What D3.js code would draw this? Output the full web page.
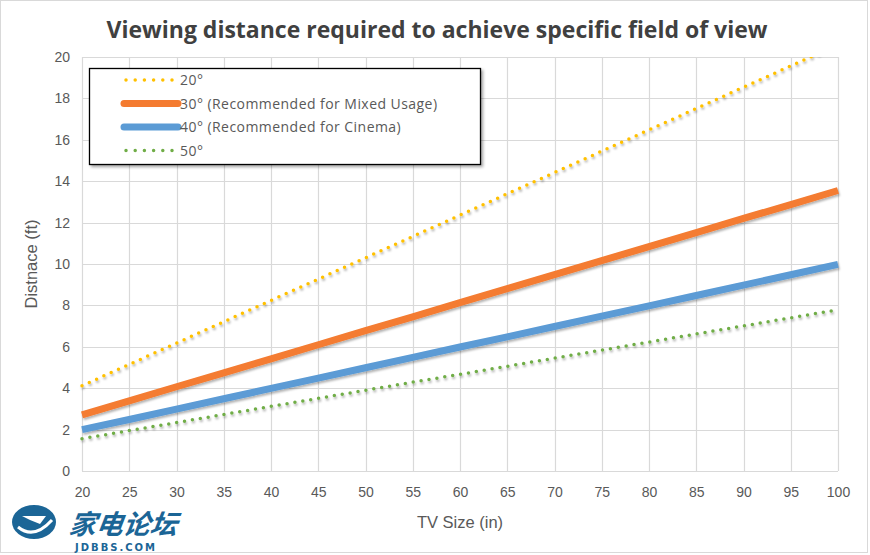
<!DOCTYPE html>
<html><head><meta charset="utf-8">
<script src="https://cdn.jsdelivr.net/npm/d3@7"></script>
<style>body{margin:0;background:#fff;}svg{display:block;}</style>
</head><body>
<script>
const sizes = [20,25,30,35,40,45,50,55,60,65,70,75,80,85,90,95,100];
const deg20 = [4.12,5.15,6.18,7.21,8.24,9.27,10.30,11.33,12.36,13.39,14.42,15.45,16.48,17.51,18.54,19.57,20.60];
const deg30 = [2.71,3.39,4.07,4.74,5.42,6.10,6.78,7.45,8.13,8.81,9.49,10.16,10.84,11.52,12.20,12.87,13.55];
const deg40 = [2.00,2.49,2.99,3.49,3.99,4.49,4.99,5.49,5.99,6.48,6.98,7.48,7.98,8.48,8.98,9.48,9.98];
const deg50 = [1.56,1.95,2.34,2.73,3.12,3.51,3.90,4.29,4.67,5.06,5.45,5.84,6.23,6.62,7.01,7.40,7.79];
const seriesNames = ["20°","30° (Recommended for Mixed Usage)","40° (Recommended for Cinema)","50°"];
const yTicks = [0,2,4,6,8,10,12,14,16,18,20];
const xTicks = sizes;
const titleText = "Viewing distance required to achieve specific field of view";
const xTitle = "TV Size (in)";
const yTitle = "Distnace (ft)";

const W=870,H=555;
const M={left:82,right:32,top:57,bottom:84};
const svg=d3.select("body").append("svg").attr("width",W).attr("height",H);
const defs=svg.append("defs");
const f=defs.append("filter").attr("id","sh").attr("x","-10%").attr("y","-10%").attr("width","120%").attr("height","140%");
f.append("feDropShadow").attr("dx",1).attr("dy",2).attr("stdDeviation",1.2).attr("flood-color","#000").attr("flood-opacity",0.3);
const f2=defs.append("filter").attr("id","bsh").attr("x","-10%").attr("y","-10%").attr("width","130%").attr("height","130%");
f2.append("feDropShadow").attr("dx",2).attr("dy",2).attr("stdDeviation",1.5).attr("flood-color","#000").attr("flood-opacity",0.35);
defs.append("clipPath").attr("id","clip").append("rect").attr("x",M.left-6).attr("y",M.top).attr("width",W-M.left-M.right+12).attr("height",H-M.top-M.bottom+6);

svg.append("rect").attr("x",0.5).attr("y",0.5).attr("width",W-3).attr("height",H-3).attr("fill","#fff").attr("stroke","#d9d9d9");

const x=d3.scaleLinear().domain([20,100]).range([M.left,W-M.right]);
const y=d3.scaleLinear().domain([0,20]).range([H-M.bottom,M.top]);
const font="'Liberation Sans Narrow','Liberation Sans',sans-serif";

// grid
const g=svg.append("g");
g.selectAll(".hg").data(yTicks).join("line").attr("x1",M.left).attr("x2",W-M.right).attr("y1",d=>Math.round(y(d))+0.5).attr("y2",d=>Math.round(y(d))+0.5).attr("stroke","#d9d9d9").attr("stroke-width",1.2);
g.selectAll(".vg").data(xTicks).join("line").attr("y1",M.top).attr("y2",H-M.bottom).attr("x1",d=>Math.round(x(d))+0.5).attr("x2",d=>Math.round(x(d))+0.5).attr("stroke","#d9d9d9").attr("stroke-width",1.2);

// axes
const xAxis=svg.append("g").attr("transform",`translate(0,${H-M.bottom})`).call(d3.axisBottom(x).tickValues(xTicks).tickSize(0).tickPadding(16));
const yAxis=svg.append("g").attr("transform",`translate(${M.left},0)`).call(d3.axisLeft(y).tickValues(yTicks).tickSize(0).tickPadding(12));
[xAxis,yAxis].forEach(a=>{a.select(".domain").remove();a.selectAll("text").attr("fill","#595959").style("font-family",font).style("font-size","14px");});

// lines
const data=[
 {vals:deg20,color:"#FFC000",w:3.5,dash:"0,8"},
 {vals:deg30,color:"#F47B30",w:7,dash:null},
 {vals:deg40,color:"#5B9BD5",w:7,dash:null},
 {vals:deg50,color:"#70AD47",w:3.5,dash:"0,8"}
];
const line=d3.line().x((d,i)=>x(sizes[i])).y(d=>y(d));
const lg=svg.append("g").attr("clip-path","url(#clip)");
data.slice().reverse().forEach(s=>{
  lg.append("path").datum(s.vals).attr("d",line).attr("fill","none").attr("stroke",s.color).attr("stroke-width",s.w)
   .attr("stroke-linecap",s.dash?"round":"butt").attr("stroke-dasharray",s.dash).attr("filter","url(#sh)");
});

// title
svg.append("text").attr("x",437).attr("y",38).attr("text-anchor","middle").attr("fill","#404040")
 .style("font-family","'Open Sans',sans-serif").style("font-weight","bold").style("font-size","23px").text(titleText);
svg.append("text").attr("x",460).attr("y",528).attr("text-anchor","middle").attr("fill","#595959").style("font-family",font).style("font-size","16.5px").text(xTitle);
svg.append("text").attr("transform","translate(37,264) rotate(-90)").attr("text-anchor","middle").attr("fill","#595959").style("font-family",font).style("font-size","16.5px").text(yTitle);

// legend
const leg=svg.append("g");
leg.append("rect").attr("x",89.5).attr("y",68.5).attr("width",391).attr("height",96).attr("fill","#fff").attr("stroke","#000").attr("stroke-width",1.3).attr("filter","url(#bsh)");
data.forEach((s,i)=>{
  const yy=80+i*23.5;
  leg.append("line").attr("x1",s.dash?126:124).attr("x2",s.dash?172:178).attr("y1",yy).attr("y2",yy).attr("stroke",s.color).attr("stroke-width",s.dash?3.5:7)
   .attr("stroke-linecap","round").attr("stroke-dasharray",s.dash?"0,9.2":null);
  leg.append("text").attr("x",180).attr("y",yy+5).attr("fill","#595959").style("font-family","'Open Sans',sans-serif").style("font-size","14px").style("letter-spacing","0.45px").text(seriesNames[i]);
});

// watermark
const wm=svg.append("g");
wm.append("ellipse").attr("cx",34).attr("cy",522).attr("rx",22).attr("ry",17).attr("fill","#1b6596");
wm.append("path").attr("d","M22,516 L46,516 L40,524 L30,520 Z").attr("fill","#fff");
wm.append("path").attr("d","M18,527 Q34,540 52,520").attr("fill","none").attr("stroke","#fff").attr("stroke-width",3);
wm.append("text").attr("x",68).attr("y",534).attr("fill","#1b6596").style("font-family","'Noto Sans CJK SC',sans-serif").style("font-weight","bold").style("font-style","italic").style("font-size","27px").attr("transform","skewX(-8) translate(75,0)").text("家电论坛");
wm.append("text").attr("x",75).attr("y",551).attr("fill","#1b6596").style("font-family","'DejaVu Sans',sans-serif").style("font-weight","bold").style("font-size","10px").style("letter-spacing","2px").text("JDBBS.COM");
</script>
</body></html>
